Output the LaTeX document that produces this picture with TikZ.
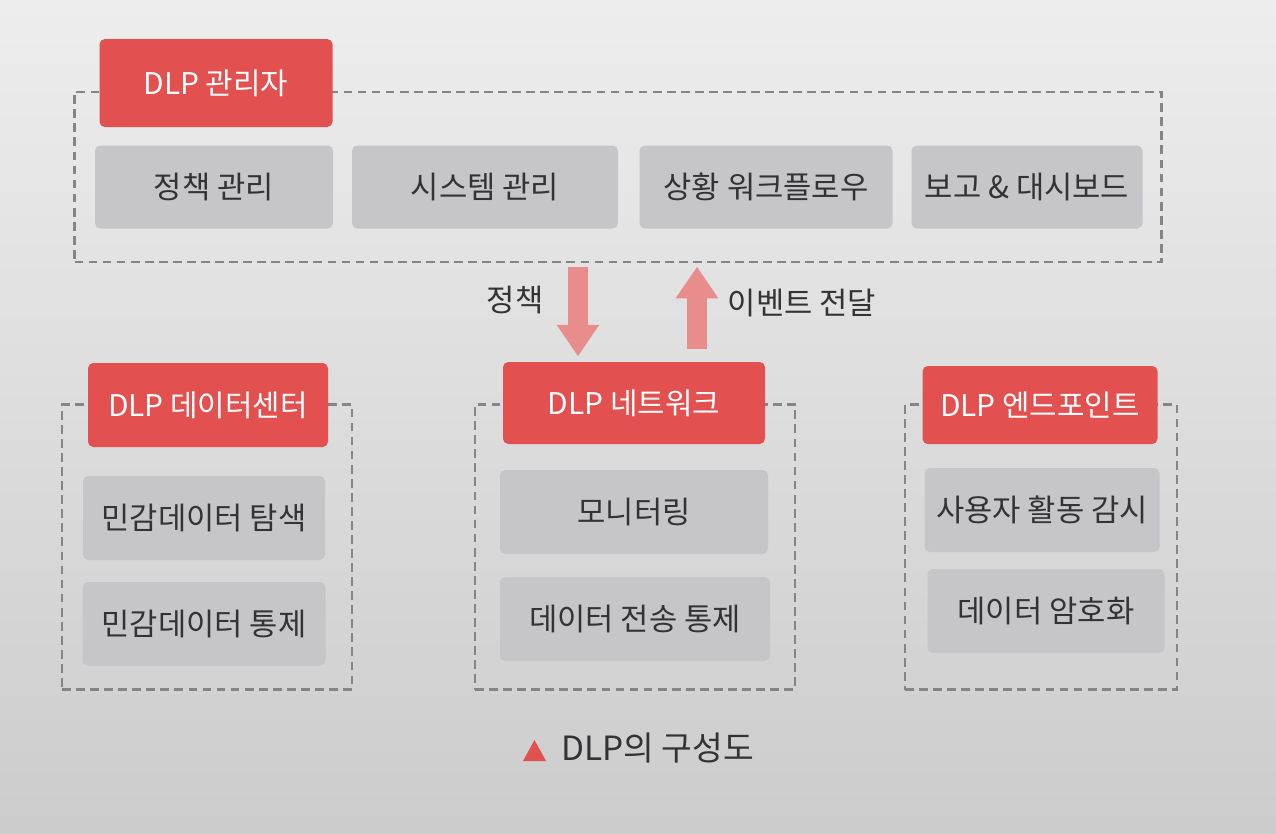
\documentclass[tikz,border=0pt]{standalone}
\usepackage{fontspec}
\setmainfont{Noto Sans CJK KR}
\usetikzlibrary{calc, positioning, arrows.meta}

\definecolor{dlpred}{HTML}{E2504F}
\definecolor{boxgrey}{HTML}{C6C6C8}
\definecolor{arrowred}{HTML}{E98C8C}
\definecolor{dashgrey}{HTML}{858587}
\definecolor{inkgrey}{HTML}{333336}

\tikzset{
  headbox/.style={fill=dlpred, text=white, rounded corners=3pt, inner sep=0pt, font=\fontsize{17}{20}\selectfont},
  itembox/.style={fill=boxgrey, text=inkgrey, rounded corners=3pt, inner sep=0pt, font=\fontsize{17.5}{21}\selectfont},
  groupbox/.style={draw=dashgrey, line width=1.3pt, dash pattern=on 5pt off 3pt, inner sep=0pt},
  fatarrow/.style={draw=arrowred, line width=11pt, -{Triangle[width=23pt, length=18pt]}},
  flowlabel/.style={text=inkgrey, font=\fontsize{17.5}{21}\selectfont}
}

\begin{document}
\begin{tikzpicture}[x=0.02cm, y=-0.02cm] % pixel-like units
            % Background of the page
            \shade[top color=black!7, bottom color=black!20] (0,0) rectangle (1276,833);
            \useasboundingbox (0,0) rectangle (1276,833);

            % Add dashed group boxes
            \foreach \name/\x/\y/\w/\h in {top/618/177/1087/170, dc/207/547/290/285, nw/635/547/320/285, ep/1041/547/272/285} {
                    \node[groupbox, minimum width=\w*0.02cm, minimum height=\h*0.02cm] (\name) at (\x,\y) {};
                }

            % Add red headers over the groups
            \foreach \name/\x/\y/\w/\h/\txt in {mgr/216/83/233/88/DLP 관리자, dchead/208/405/240/84/DLP 데이터센터, nwhead/634/403/262/82/DLP 네트워크, ephead/1040/405/235/78/DLP 엔드포인트} {
                    \node[headbox, minimum width=\w*0.02cm, minimum height=\h*0.02cm] (\name) at (\x,\y) {\txt};
                }

            % Items of the manager
            \foreach \name/\x/\w/\txt in {pol/214/238/정책 관리, sys/485/266/시스템 관리, flow/766/253/상황 워크플로우, rep/1027/231/보고 \& 대시보드} {
                    \node[itembox, minimum width=\w*0.02cm, minimum height=83*0.02cm] (\name) at (\x,187) {\txt};
                }

            % Items of the three lower groups
            \foreach \name/\x/\y/\w/\txt in {find/204/518/242/민감데이터 탐색, dcctl/204/624/243/민감데이터 통제, mon/634/512/268/모니터링, sendctl/635/619/270/데이터 전송 통제, watch/1042/510/235/사용자 활동 감시, crypt/1046/611/237/데이터 암호화} {
                    \node[itembox, minimum width=\w*0.02cm, minimum height=84*0.02cm] (\name) at (\x,\y) {\txt};
                }

            % Add the two fat arrows
            \coordinate (polx) at (578,0);
            \coordinate (evtx) at (697,0);
            \draw[fatarrow, shorten <=2pt, shorten >=3pt] (top.south -| polx) -- (nwhead.north -| polx);
            \draw[fatarrow, shorten <=7pt, shorten >=2pt] (nwhead.north -| evtx) -- (top.south -| evtx);
            \node[flowlabel] (pollbl) at (515,300) {정책};
            \node[flowlabel] (evtlbl) at (802,303) {이벤트 전달};

            % Caption
            \node[flowlabel, font=\fontsize{19}{22}\selectfont, anchor=west] (cap) at (555,748) {DLP의 구성도};
            \fill[dlpred] (523,761) -- (546,761) -- (534.5,740) -- cycle;

        \end{tikzpicture}
\end{document}
